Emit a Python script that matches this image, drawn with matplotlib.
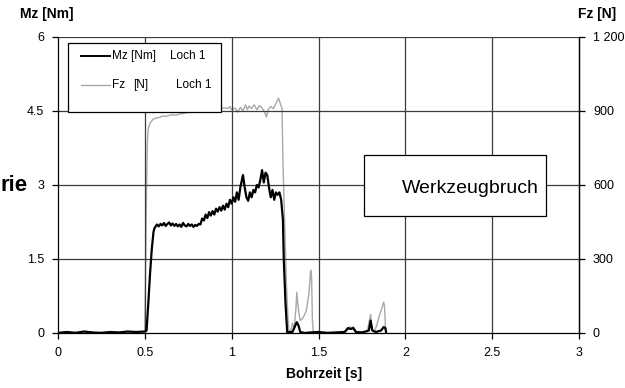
import matplotlib
matplotlib.use("Agg")
import matplotlib.pyplot as plt
from matplotlib.patches import Rectangle
from matplotlib.lines import Line2D

plt.rcParams['font.family'] = ['Liberation Sans', 'DejaVu Sans']

# Torque Mz [Nm] over drilling time [s]
mz_t = [0.00, 0.05, 0.10, 0.15, 0.20, 0.25, 0.30, 0.35, 0.40, 0.45, 0.50, 0.51,
        0.52, 0.53, 0.54, 0.55, 0.555,
        0.56, 0.57, 0.58, 0.59, 0.60, 0.61, 0.62, 0.63, 0.64, 0.65, 0.66, 0.67,
        0.68, 0.69, 0.70, 0.71, 0.72, 0.73, 0.74, 0.75, 0.76, 0.77, 0.78, 0.79,
        0.80, 0.81, 0.82, 0.83, 0.84, 0.85, 0.86, 0.87, 0.88, 0.89, 0.90, 0.91,
        0.92, 0.93, 0.94, 0.95, 0.96, 0.97, 0.98, 0.99, 1.00, 1.01, 1.02, 1.03,
        1.04, 1.05, 1.065, 1.075, 1.085,
        1.095, 1.105, 1.115, 1.125, 1.135, 1.145, 1.155, 1.165, 1.175, 1.185,
        1.195, 1.205, 1.215, 1.225, 1.235, 1.245, 1.255, 1.265, 1.275, 1.285,
        1.295, 1.30, 1.31, 1.32, 1.33, 1.35, 1.36, 1.375, 1.385, 1.395, 1.42,
        1.45, 1.50, 1.55, 1.60, 1.65, 1.67, 1.685, 1.70, 1.715, 1.75, 1.79, 1.80,
        1.81, 1.83, 1.86, 1.875, 1.885, 1.89]
mz_val = [0.00, 0.02, 0.00, 0.03, 0.01, 0.00, 0.02, 0.01, 0.03, 0.02, 0.03, 0.05,
          0.60, 1.20, 1.70, 2.05, 2.12,
          2.15, 2.20, 2.16, 2.21, 2.18, 2.23, 2.17, 2.21, 2.24, 2.18, 2.22, 2.17,
          2.21, 2.16, 2.20, 2.15, 2.23, 2.18, 2.16, 2.21, 2.17, 2.20, 2.15, 2.19,
          2.17, 2.21, 2.20, 2.32, 2.28, 2.40, 2.33, 2.45, 2.38, 2.47, 2.40, 2.52,
          2.46, 2.55, 2.48, 2.58, 2.50, 2.62, 2.55, 2.70, 2.62, 2.75, 2.66, 2.85,
          2.70, 2.95, 3.20, 2.95, 2.75,
          2.68, 2.85, 2.75, 2.90, 2.85, 3.00, 2.95, 3.10, 3.30, 3.05,
          3.25, 3.20, 2.95, 2.75, 2.90, 2.70, 2.85, 2.80, 2.85, 2.70,
          2.30, 1.50, 0.60, 0.00, 0.02, 0.02, 0.10, 0.22, 0.15, 0.02, 0.00,
          0.01, 0.02, 0.00, 0.01, 0.02, 0.10, 0.08, 0.10, 0.02, 0.01, 0.05, 0.25,
          0.05, 0.02, 0.05, 0.12, 0.10, 0.00]

# Feed force Fz [N] over drilling time [s]
fz_t = [0.00, 0.10, 0.20, 0.30, 0.40, 0.49, 0.50, 0.505, 0.51, 0.515, 0.52, 0.53,
        0.54, 0.55, 0.57, 0.59, 0.60, 0.62, 0.64, 0.66, 0.68, 0.70, 0.72, 0.74,
        0.76, 0.78, 0.80, 0.82, 0.84, 0.86, 0.88, 0.90, 0.92, 0.94, 0.96, 0.98,
        0.99, 1.00, 1.02, 1.035, 1.05, 1.065, 1.08, 1.09, 1.10, 1.115, 1.13,
        1.145, 1.16, 1.175, 1.19, 1.20, 1.21, 1.225, 1.24, 1.255, 1.27, 1.28,
        1.29, 1.295, 1.305, 1.315, 1.325, 1.33, 1.34, 1.35, 1.36, 1.37, 1.375,
        1.385, 1.395, 1.41, 1.43, 1.445, 1.455, 1.46, 1.465, 1.47, 1.50, 1.60,
        1.66, 1.68, 1.69, 1.70, 1.72, 1.78, 1.79, 1.80, 1.81, 1.82, 1.835, 1.85,
        1.865, 1.875, 1.88, 1.885, 1.89]
fz_val = [2, 4, 2, 4, 2, 4, 10, 300, 600, 780, 830, 850,
          860, 868, 872, 875, 880, 878, 882, 885, 883, 888, 890, 893,
          896, 900, 902, 905, 908, 906, 910, 908, 912, 910, 913, 910,
          918, 905, 912, 895, 915, 900, 925, 905, 920, 910, 925,
          905, 922, 912, 895, 875, 905, 918, 910, 930, 952, 930,
          910, 700, 450, 200, 50, 10, 5, 40, 20, 100, 165,
          90, 50, 60, 90, 160, 255, 230, 50, 5, 3, 3,
          5, 25, 20, 25, 5, 5, 40, 75, 10, 5, 30, 70,
          100, 125, 110, 30, 2]

x_ticks = [0, 0.5, 1, 1.5, 2, 2.5, 3]
x_ticklabels = ['0', '0.5', '1', '1.5', '2', '2.5', '3']
mz_ticks = [0, 1.5, 3, 4.5, 6]
mz_ticklabels = ['0', '1.5', '3', '4.5', '6']
fz_ticks = [0, 300, 600, 900, 1200]
fz_ticklabels = ['0', '300', '600', '900', '1 200']

fig = plt.figure(figsize=(6.25, 3.88), dpi=100)
ax = fig.add_axes([0.0928, 0.1418, 0.8336, 0.7629])
ax2 = ax.twinx()
ax.set_zorder(ax2.get_zorder() + 1)
ax.patch.set_visible(False)

grid_col = '#3c3c3c'
ax.set_xlim(0, 3)
ax.set_ylim(0, 6)
ax2.set_ylim(0, 1200)
for xv in x_ticks[1:-1]:
    ax.axvline(xv, color=grid_col, lw=0.9, zorder=0)
for yv in mz_ticks[1:]:
    ax.axhline(yv, color=grid_col, lw=0.9, zorder=0)

ax2.plot(fz_t, fz_val, color='#a8a8a8', lw=1.0)
ax.plot(mz_t, mz_val, color='black', lw=1.6, zorder=3)

ax.set_xticks(x_ticks)
ax.set_xticklabels(x_ticklabels)
ax.set_yticks(mz_ticks)
ax.set_yticklabels(mz_ticklabels)
ax2.set_yticks(fz_ticks)
ax2.set_yticklabels(fz_ticklabels)

for a in (ax, ax2):
    a.tick_params(labelsize=9, length=4, width=0.9, colors='black', pad=6)
    for s in a.spines.values():
        s.set_linewidth(0.9)
    a.spines['top'].set_visible(False)
ax2.spines['left'].set_visible(False)
ax2.spines['bottom'].set_visible(False)

fig.text(0.032, 0.963, 'Mz [Nm]', fontsize=10, fontweight='bold', ha='left', va='center')
fig.text(0.985, 0.963, 'Fz [N]', fontsize=10, fontweight='bold', ha='right', va='center')
fig.text(0.518, 0.036, 'Bohrzeit [s]', fontsize=10, fontweight='bold', ha='center', va='center')
fig.text(0.0, 0.522, 'rie', fontsize=16, fontweight='bold', ha='left', va='center')

# Legend box drawn by hand
ax.add_patch(Rectangle((0.0585, 4.47), 0.88, 1.4, facecolor='white',
                       edgecolor='black', lw=0.9, zorder=5))
ax.add_line(Line2D([0.135, 0.30], [5.62, 5.62], color='black', lw=1.4, zorder=6))
ax.add_line(Line2D([0.135, 0.30], [5.02, 5.02], color='#a8a8a8', lw=1.0, zorder=6))
ax.text(0.31, 5.62, 'Mz [Nm]', fontsize=8.5, va='center', ha='left', zorder=7)
ax.text(0.645, 5.62, 'Loch 1', fontsize=8.5, va='center', ha='left', zorder=7)
ax.text(0.31, 5.02, 'Fz', fontsize=8.5, va='center', ha='left', zorder=7)
ax.text(0.43, 5.02, '[N]', fontsize=8.5, va='center', ha='left', zorder=7)
ax.text(0.68, 5.02, 'Loch 1', fontsize=8.5, va='center', ha='left', zorder=7)

# Annotation box
ax.add_patch(Rectangle((1.76, 2.38), 1.05, 1.22, facecolor='white',
                       edgecolor='black', lw=0.9, zorder=5))
ax.text(2.375, 2.93, 'Werkzeugbruch', fontsize=14, ha='center', va='center', zorder=7)

fig.savefig('out.png', dpi=100)
